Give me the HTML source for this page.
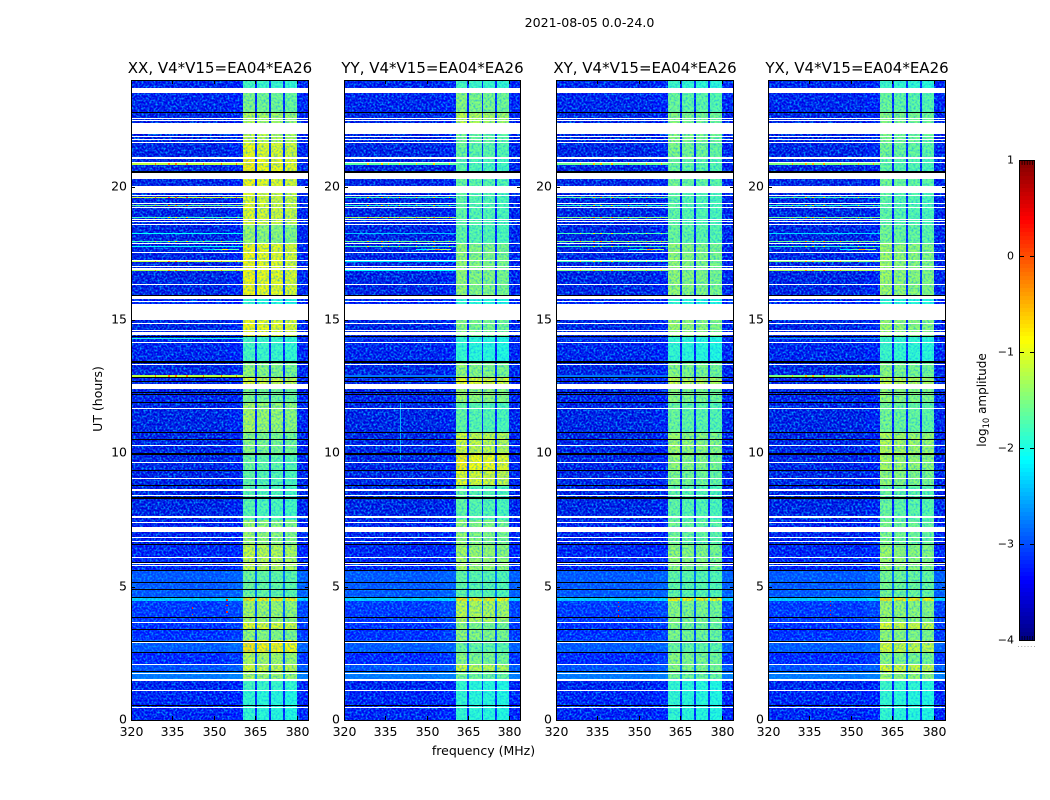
<!DOCTYPE html>
<html>
<head>
<meta charset="utf-8">
<title>2021-08-05 0.0-24.0</title>
<style>
html,body{margin:0;padding:0;background:#fff;}
svg{display:block;}
text{font-family:"DejaVu Sans","Liberation Sans",sans-serif;fill:#000;}
</style>
</head>
<body>
<svg id="fig" xmlns="http://www.w3.org/2000/svg" width="1050" height="800" viewBox="0 0 1050 800">
  <defs>
    <filter id="speckle" x="0" y="0" width="1" height="1" color-interpolation-filters="sRGB">
      <feTurbulence type="fractalNoise" baseFrequency="0.5" numOctaves="2" seed="7"/>
      <feColorMatrix type="matrix" values="0 0 0 0 0  0 0 0 0 0.62  0 0 0 0 1  2.8 0 0 0 -1.15"/>
    </filter>
  </defs>
  <text x="589.5" y="27" font-size="12.6" text-anchor="middle">2021-08-05 0.0-24.0</text>
  <text x="483.5" y="755" font-size="12.5" text-anchor="middle">frequency (MHz)</text>
  <text x="0" y="0" font-size="12.5" text-anchor="middle" transform="translate(102,399) rotate(-90)">UT (hours)</text>
  <text x="0" y="0" font-size="12" text-anchor="middle" transform="translate(986,400) rotate(-90)">log<tspan font-size="8.4" dy="3">10</tspan><tspan dy="-3"> amplitude</tspan></text>
  <g id="panels"></g>
  <g id="cbar"></g>
</svg>
<script>
// ---------- chart data ----------
const panelTitles = ["XX, V4*V15=EA04*EA26", "YY, V4*V15=EA04*EA26", "XY, V4*V15=EA04*EA26", "YX, V4*V15=EA04*EA26"];
const freqTicks = [320, 335, 350, 365, 380];
const hourTicks = [0, 5, 10, 15, 20];
const colorTicks = [1, 0, -1, -2, -3, -4];

// time segment edges (UT hours, top of plot to bottom)
const segmentEdges = [24, 23.70, 22.76, 21.98, 21.64, 21.11, 20.59, 20.03, 18.56, 17.89, 15.90, 15.60, 14.40, 13.43, 12.86, 12.60, 11.93, 10.80, 10.01, 9.38, 8.78, 7.50, 6.56, 5.63, 4.61, 4.46, 3.64, 3.38, 3.00, 2.55, 2.10, 1.80, 1.50, 1.13, 0];

// log10 amplitude inside the 360-380 MHz band for each time segment
const bandXX = [-1.75,-1.45,-1.2,-1.1,-0.9,-0.8,-0.85,-0.95,-1.3,-0.85,-1.85,-0.85,-1.75,-1.35,-1.0,-1.45,-1.25,-1.4,-1.55,-1.6,-1.65,-1.3,-1.1,-1.55,-0.75,-1.25,-0.95,-1.35,-0.75,-1.2,-1.05,-1.25,-1.75,-1.85];
const bandYY = [-1.75,-1.4,-1.15,-1.5,-1.55,-1.65,-1.55,-1.6,-1.6,-1.35,-1.85,-1.4,-1.85,-1.35,-0.9,-1.3,-1.6,-1.05,-0.8,-0.95,-1.6,-1.35,-1.25,-1.6,-0.75,-1.15,-1.4,-1.35,-1.55,-1.4,-1.1,-1.5,-1.85,-1.85];
const bandXY = [-1.8,-1.55,-1.4,-1.4,-1.45,-1.55,-1.5,-1.6,-1.55,-1.35,-1.85,-1.3,-1.85,-1.4,-1.1,-1.4,-1.55,-1.3,-1.35,-1.45,-1.6,-1.5,-1.35,-1.6,-0.8,-1.4,-1.45,-1.45,-1.55,-1.4,-1.4,-1.5,-1.85,-1.85];
const bandYX = [-1.8,-1.55,-1.4,-1.45,-1.5,-1.6,-1.5,-1.6,-1.5,-1.3,-1.85,-1.3,-1.8,-1.4,-1.1,-1.35,-1.5,-1.2,-1.25,-1.35,-1.55,-1.45,-1.3,-1.5,-0.75,-1.3,-1.0,-1.35,-1.05,-1.4,-1.0,-1.3,-1.8,-1.85];
// log10 amplitude of the off-band background for each time segment
const backgroundLevel = [-3.5,-3.5,-3.55,-3.55,-3.55,-3.55,-3.55,-3.55,-3.55,-3.55,-3.45,-3.55,-3.5,-3.55,-3.5,-3.5,-3.55,-3.55,-3.55,-3.55,-3.55,-3.5,-3.45,-3.05,-2.3,-3.25,-3.3,-3.3,-3.05,-3.35,-3.1,-2.85,-3.5,-3.45];

// frequency channels (MHz) and how much each follows the band level (0 = background, 1 = band)
const channelEdges = [320, 355, 360.6, 364.8, 365.6, 370, 370.6, 375, 375.7, 379.9, 384];
const channelWeight = [0, 0.04, 1, 0.12, 0.97, 0.14, 0.96, 0.14, 0.94, 0.03];

// flagged integrations (UT hours)
const whiteStart = [23.51,22.54,22.46,21.98,21.86,21.75,21.64,21.04,20.89,20.29,19.76,19.65,19.35,19.20,18.75,18.68,18.56,17.85,17.51,17.21,16.99,16.88,16.31,15.79,15.68,15.00,14.85,14.59,14.44,14.14,13.31,12.41,11.66,10.28,9.64,9.04,8.59,8.40,7.58,7.39,7.05,6.83,6.68,6.08,5.85,5.78,3.64,2.89,2.06,1.73,1.46,1.09,0.45];
const whiteEnd = [23.70,22.58,22.50,22.39,21.90,21.79,21.68,21.11,20.93,20.51,20.03,19.69,19.39,19.24,18.79,18.71,18.60,17.89,17.55,17.25,17.03,16.95,16.35,15.90,15.71,15.60,14.89,14.63,14.55,14.18,13.35,12.60,11.70,10.31,9.68,9.08,8.66,8.44,7.65,7.43,7.24,6.86,6.71,6.11,5.89,5.81,3.68,2.93,2.10,1.76,1.54,1.13,0.49];
const blackStart = [22.76,20.53,15.90,14.36,13.40,12.83,12.68,12.26,12.17,11.89,10.76,10.50,9.92,9.32,8.78,8.29,6.56,5.89,5.57,5.14,4.88,4.58,3.83,3.38,2.94,2.51,1.80,0.53];
const blackEnd = [22.80,20.59,15.94,14.40,13.47,12.86,12.71,12.30,12.21,11.93,10.80,10.54,10.01,9.38,8.83,8.36,6.60,5.93,5.64,5.18,4.91,4.61,3.86,3.41,2.98,2.55,1.84,0.56];

// narrow-band interference rows
const rfiHours = [20.85,19.58,19.31,18.83,18.26,17.93,17.74,17.18,16.84,15.68,14.29,12.90];
const rfiXX = [-1.2,-1.1,-1.6,-1.8,-2.1,-1.8,-2.1,-1.2,-1.3,-1.1,-2.0,-1.2];
const rfiYY = [-1.7,-1.8,-1.9,-1.3,-2.4,-1.6,-1.8,-2.2,-2.1,-1.3,-3.0,-2.8];
const rfiXY = [-1.6,-1.7,-1.9,-1.5,-1.8,-1.5,-1.8,-1.8,-1.5,-1.3,-3.0,-2.8];
const rfiYX = [-1.5,-1.8,-1.9,-1.6,-2.3,-1.6,-1.9,-1.5,-1.3,-1.3,-2.6,-1.5];
const rfiSpotFreqs = [328.5, 333.5, 336, 340, 346, 352.5, 358];
const chirpHour = 17.63;
const chirpFreqs = [346, 350, 353, 355, 359];
const chirpXX = [-2.4,-1.9,-0.9,-1.7,-2.0];
const chirpYY = [-2.2,-1.7,-0.4,-1.3,-1.7];
const chirpXY = [-2.2,-1.7,-0.4,-1.3,-1.7];
const chirpYX = [-2.2,-1.7,-0.5,-1.4,-1.8];

// isolated hot samples: frequency (MHz) and hour
const hotFreqXX = [354.5,354.5,354.5,342,342];
const hotHourXX = [4.05,4.30,4.50,3.95,4.20];
const hotFreqXY = [342.5,342.5,342.5,342.5];
const hotHourXY = [3.90,4.10,4.25,4.40];
const hotFreqYX = [342.5,342.5,342.5,342.5];
const hotHourYX = [3.95,4.10,4.30,4.45];
const streakFreqYY = 340.3;
const streakStartYY = 9.75;
const streakEndYY = 12.0;
const streakLevelYY = -2.5;

const bandSeries = [bandXX, bandYY, bandXY, bandYX];
const rfiSeries = [rfiXX, rfiYY, rfiXY, rfiYX];
const chirpSeries = [chirpXX, chirpYY, chirpXY, chirpYX];
const hotFreqSeries = [hotFreqXX, [], hotFreqXY, hotFreqYX];
const hotHourSeries = [hotHourXX, [], hotHourXY, hotHourYX];

// ---------- layout and scales ----------
const NS = "http://www.w3.org/2000/svg";
const frameLeft = [131, 344, 556, 768];
const frameWidth = [177, 176, 177, 177];
const frameTop = 80, frameBottom = 720;
const hourY = h => frameBottom - h / 24 * (frameBottom - frameTop);
const freqX = (f, p) => frameLeft[p] + (f - 320) / 64 * frameWidth[p];
const cbTop = 160, cbBottom = 640, cbLeft = 1019, cbRight = 1034;
const valueY = v => cbTop + (1 - v) / 5 * (cbBottom - cbTop);

function clamp01(x) { return Math.max(0, Math.min(1, x)); }
function jet(v) {
  const n = clamp01((v + 4) / 5);
  const r = clamp01(Math.min(4 * n - 1.5, -4 * n + 4.5));
  const g = clamp01(Math.min(4 * n - 0.5, -4 * n + 3.5));
  const b = clamp01(Math.min(4 * n + 0.5, -4 * n + 2.5));
  return "rgb(" + Math.round(r * 255) + "," + Math.round(g * 255) + "," + Math.round(b * 255) + ")";
}
function mk(tag, attrs, parent) {
  const el = document.createElementNS(NS, tag);
  for (const k in attrs) el.setAttribute(k, attrs[k]);
  parent.appendChild(el);
  return el;
}
function bandRect(parent, x0, x1, h0, h1, fill) {
  const xa = Math.round(x0), xb = Math.max(xa + 1, Math.round(x1));
  const ya = Math.round(hourY(h1)), yb = Math.max(ya + 1, Math.round(hourY(h0)));
  return mk("rect", { x: xa, y: ya, width: xb - xa, height: yb - ya, fill: fill, "shape-rendering": "crispEdges" }, parent);
}

const panelsRoot = document.getElementById("panels");
panelTitles.forEach(function (title, p) {
  const g = mk("g", {}, panelsRoot);
  
  

  const L = frameLeft[p], W = frameWidth[p];
  const series = bandSeries[p];

  // heatmap cells
  for (let s = 0; s < series.length; s++) {
    for (let c = 0; c < channelWeight.length; c++) {
      const val = backgroundLevel[s] + channelWeight[c] * (series[s] - backgroundLevel[s]);
      const cell = bandRect(g, freqX(channelEdges[c], p), freqX(channelEdges[c + 1], p), segmentEdges[s + 1], segmentEdges[s], jet(val));
      
      
    }
  }

  // pixel-noise texture over the cells: full strength off-band, lighter in-band
  const xBandA = Math.round(freqX(360.6, p)), xBandB = Math.round(freqX(379.9, p));
  const noiseA = mk("rect", { x: L, y: frameTop, width: xBandA - L, height: frameBottom - frameTop, filter: "url(#speckle)" }, g);
  
  
  const noiseB = mk("rect", { x: xBandA, y: frameTop, width: xBandB - xBandA, height: frameBottom - frameTop, filter: "url(#speckle)", opacity: 0.6 }, g);
  
  
  const noiseC = mk("rect", { x: xBandB, y: frameTop, width: L + W - xBandB, height: frameBottom - frameTop, filter: "url(#speckle)" }, g);
  
  

  // narrow-band interference rows
  rfiHours.forEach(function (h, i) {
    const lev = rfiSeries[p][i];
    const row = bandRect(g, freqX(320, p), freqX(360.6, p), h - 0.02, h + 0.02, jet(lev));
    
    
    if (lev > -1.95) {
      rfiSpotFreqs.forEach(function (f) {
        const spot = bandRect(g, freqX(f, p), freqX(f + 0.5, p), h - 0.02, h + 0.02, jet(lev + 1.0));
        
        
      });
    }
  });
  for (let i = 0; i + 1 < chirpFreqs.length; i++) {
    const ch = bandRect(g, freqX(chirpFreqs[i], p), freqX(chirpFreqs[i + 1], p), chirpHour - 0.02, chirpHour + 0.02, jet(chirpSeries[p][i]));
    
    
  }

  // isolated hot samples
  hotFreqSeries[p].forEach(function (f, i) {
    const h = hotHourSeries[p][i];
    const hot = bandRect(g, freqX(f, p), freqX(f + 0.4, p), h - 0.03, h + 0.03, jet(0.2));
    
    
  });
  if (p === 1) {
    const streak = bandRect(g, freqX(streakFreqYY, p), freqX(streakFreqYY + 0.3, p), streakStartYY, streakEndYY, jet(streakLevelYY));
    
    
  }

  // flagged integrations
  whiteStart.forEach(function (h, i) {
    const r = bandRect(g, L, L + W, h, whiteEnd[i], "#fff");
    
    
  });
  blackStart.forEach(function (h, i) {
    const r = bandRect(g, L, L + W, h, blackEnd[i], "#000");
    
    
  });

  // frame
  const frame = mk("rect", { x: L + 0.5, y: frameTop + 0.5, width: W, height: frameBottom - frameTop, fill: "none", stroke: "#000", "stroke-width": 1 }, g);
  
  

  // frequency ticks and labels
  freqTicks.forEach(function (f) {
    const x = Math.round(freqX(f, p)) + 0.5;
    const t1 = mk("line", { x1: x, x2: x, y1: frameBottom, y2: frameBottom - 4, stroke: "#000", "stroke-width": 1 }, g);
    
    
    const t2 = mk("line", { x1: x, x2: x, y1: frameTop, y2: frameTop + 4, stroke: "#000", "stroke-width": 1 }, g);
    
    
    const lab = mk("text", { x: x, y: 736, "font-size": 12.5, "text-anchor": "middle" }, g);
    
    
    lab.textContent = f;
  });

  // hour ticks and labels
  hourTicks.forEach(function (h) {
    const y = Math.round(hourY(h)) + 0.5;
    const t1 = mk("line", { x1: L, x2: L + 4, y1: y, y2: y, stroke: "#000", "stroke-width": 1 }, g);
    
    
    const t2 = mk("line", { x1: L + W - 3, x2: L + W + 1, y1: y, y2: y, stroke: "#000", "stroke-width": 1 }, g);
    
    
    const lab = mk("text", { x: L - 4, y: y + 3, "font-size": 12.5, "text-anchor": "end" }, g);
    
    
    lab.textContent = h;
  });

  // title
  const ttl = mk("text", { x: L + W / 2 + 0.5, y: 73, "font-size": 15, "text-anchor": "middle" }, g);
  
  
  ttl.textContent = title;
});

// ---------- colorbar ----------
const cbRoot = document.getElementById("cbar");
for (let y = cbTop; y < cbBottom; y += 4) {
  const v = 1 - (y + 2 - cbTop) / (cbBottom - cbTop) * 5;
  const sw = mk("rect", { x: cbLeft, y: y, width: cbRight - cbLeft, height: 4, fill: jet(v), "shape-rendering": "crispEdges" }, cbRoot);
  
  
}
const cbFrame = mk("rect", { x: cbLeft + 0.5, y: cbTop + 0.5, width: cbRight - cbLeft, height: cbBottom - cbTop, fill: "none", stroke: "#000", "stroke-width": 1 }, cbRoot);


colorTicks.forEach(function (v) {
  const y = Math.round(valueY(v)) + 0.5;
  const lab = mk("text", { x: 1014, y: y + 3, "font-size": 11, "text-anchor": "end" }, cbRoot);
  
  
  lab.textContent = v < 0 ? "\u2212" + Math.abs(v) : String(v);
  if (v !== 1 && v !== -4) {
    const a = mk("line", { x1: cbLeft, x2: cbLeft + 5, y1: y, y2: y, stroke: "#000" }, cbRoot);
    
    
    const b = mk("line", { x1: cbRight - 4, x2: cbRight + 1, y1: y, y2: y, stroke: "#000" }, cbRoot);
    
    
  }
});
for (let i = 1; i <= 5; i++) {
  const x = cbLeft + i * 2.6 + 0.5;
  const a = mk("line", { x1: x, x2: x, y1: cbTop, y2: cbTop + 5, stroke: "#000", "stroke-opacity": 0.7 }, cbRoot);
  
  
  const b = mk("line", { x1: x, x2: x, y1: cbBottom - 4, y2: cbBottom + 1, stroke: "#000", "stroke-opacity": 0.7 }, cbRoot);
  
  
}
for (let i = 0; i < 6; i++) {
  const d = mk("rect", { x: 1018 + i * 3.2, y: 646, width: 1, height: 1, fill: "#aaa" }, cbRoot);
  
  
}
</script>
</body>
</html>
